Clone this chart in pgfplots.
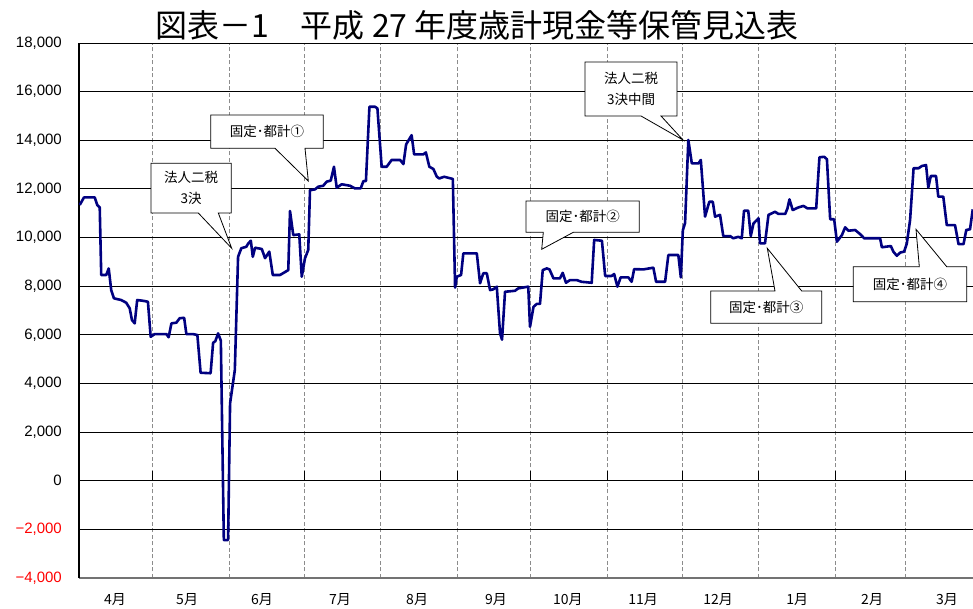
\documentclass[border=0pt]{standalone}
\usepackage{pgfplots}
\pgfplotsset{compat=1.18}
\usepackage{fontspec}
\setmainfont{Liberation Sans}
\newfontfamily\jp{Noto Sans CJK JP}
\newfontfamily\lib{Liberation Sans}
\definecolor{navyline}{RGB}{0,0,128}
\begin{document}
\begin{tikzpicture}
\useasboundingbox (-79pt,-31pt) rectangle (894pt,578pt);
\begin{axis}[
 scale only axis, width=894pt, height=535pt,
 xmin=0.4, xmax=358.4, ymin=-4000, ymax=18000,
 scaled y ticks=false,
 axis x line*=bottom, axis y line*=left,
 x axis line style={line width=2.5pt, color=black!55},
 y axis line style={line width=1.2pt, black},
 ytick={-4000,-2000,0,2000,4000,6000,8000,10000,12000,14000,16000,18000},
 yticklabels={{\textcolor{red}{−4,000}},{\textcolor{red}{−2,000}},{0},{2,000},{4,000},{6,000},{8,000},{10,000},{12,000},{14,000},{16,000},{18,000}},
 yticklabel style={font=\lib\fontsize{15}{15}\selectfont, inner sep=0pt, xshift=-17pt, anchor=east},
 xtick={14.8,43.7,73.7,104.9,135.8,167.4,196.2,226.3,256.3,288.0,318.0,348.0},
 xticklabels={4月,5月,6月,7月,8月,9月,10月,11月,12月,1月,2月,3月},
 xticklabel style={font=\jp\fontsize{14}{14}\selectfont, inner sep=0pt, anchor=center, yshift=-22pt},
 minor xtick={29.8,60.8,90.6,121.0,151.9,181.3,212.1,242.1,272.6,303.4,331.5},
 xminorgrids, ymajorgrids,
 major grid style={black, line width=0.9pt},
 minor grid style={black!45, dash pattern=on 4pt off 2.5pt, line width=0.8pt},
 major tick length=0pt, minor tick length=0pt,
 tick style={draw=none},
]
\pgfplotsinvokeforeach{29.8,60.8,90.6,121.0,151.9,181.3,212.1,242.1,272.6,303.4,331.5}{
  \draw[black, line width=0.8pt] (axis cs:#1,0) -- (axis cs:#1,410);
}
\addplot[navyline, line width=2.6pt, line join=round, mark=none] table {
d v
0.7 11340
2.4 11650
6.7 11650
7.7 11340
8.7 11240
9.3 8460
11.3 8460
12.3 8730
13.3 7840
14.4 7500
17.3 7430
19.3 7320
20.7 7090
21.6 6610
22.7 6470
23.7 7430
26.0 7400
28.0 7360
29.1 5920
30.7 6030
35.4 6030
36.3 5900
37.4 6470
39.4 6500
40.7 6680
42.5 6700
43.4 6030
46.1 6030
47.8 5990
49.1 4440
53.1 4420
54.1 5670
55.0 5740
56.1 6060
57.2 5760
58.4 -2440
60.1 -2440
60.9 3180
62.8 4550
64.1 9210
65.4 9560
67.4 9620
68.2 9760
69.2 9870
70.0 9210
70.9 9580
73.6 9530
74.9 9150
76.6 9420
78.0 8460
80.9 8460
84.2 8660
84.9 11090
86.2 10100
88.6 10130
89.6 8390
90.9 9150
92.2 9490
92.9 11950
94.9 11980
96.2 12090
98.2 12130
99.6 12300
101.2 12340
102.5 12910
103.6 12050
105.6 12190
108.9 12130
110.9 12020
113.2 12020
114.3 12320
115.3 12320
116.7 15380
118.9 15380
119.9 15310
121.6 12910
123.6 12910
125.6 13190
129.0 13190
130.3 13020
131.4 13830
133.6 14210
134.6 13420
138.3 13420
139.3 13500
140.7 12910
142.3 12820
143.7 12500
144.7 12430
146.6 12500
150.1 12410
151.0 7940
151.7 8390
153.4 8460
154.3 9350
159.7 9350
161.0 8120
162.3 8530
163.7 8530
165.0 7840
166.3 7870
167.7 7980
169.0 6060
169.8 5800
171.0 7770
175.0 7810
176.3 7910
180.3 7980
181.0 6330
182.4 7150
183.7 7270
185.0 7270
186.1 8660
187.7 8730
188.8 8690
190.4 8320
193.0 8320
194.1 8550
195.4 8140
197.0 8250
199.7 8250
201.7 8180
205.7 8140
206.7 9900
209.8 9870
211.1 8420
213.7 8420
214.7 8500
216.0 7980
217.3 8360
220.4 8360
221.7 8180
222.7 8700
226.4 8690
230.4 8760
231.5 8180
235.1 8180
236.4 9280
240.4 9280
241.4 8360
242.2 10300
243.1 10600
244.4 14010
245.8 13050
248.5 13050
249.4 13190
251.1 10860
252.8 11470
254.2 11470
255.1 10860
257.1 10930
258.4 10060
261.1 10060
262.4 9970
264.4 10030
265.8 9970
266.7 11100
268.4 11100
269.4 10060
270.5 10580
272.5 10790
273.1 9760
275.1 9760
276.5 10930
279.1 11060
280.5 10970
283.2 10970
284.1 11200
284.9 11570
286.2 11130
288.5 11240
290.5 11300
292.1 11200
295.6 11200
296.9 13300
298.8 13320
299.9 13220
301.2 10750
302.8 10750
303.9 9830
305.9 10100
307.2 10420
308.5 10280
311.2 10310
313.2 10140
314.8 9970
321.2 9970
321.9 9600
325.5 9650
326.5 9420
327.9 9250
329.2 9380
330.8 9420
331.9 9760
333.2 10720
334.6 12850
336.6 12850
337.9 12940
339.6 12980
340.5 12060
341.5 12530
343.6 12530
344.5 11680
346.5 11680
347.9 10510
351.2 10510
352.6 9730
354.6 9730
355.7 10310
357.2 10340
358.3 11160
};
\end{axis}
% title
\node[font=\jp\fontsize{32}{32}\selectfont] at (398pt,553pt) {図表－1　平成 27 年度歳計現金等保管見込表};
% callouts
\tikzset{callout/.style={draw=black, fill=white, line width=0.8pt, line join=miter}}
\tikzset{ctext/.style={font=\jp\fontsize{13.5}{21}\selectfont, align=center}}
% 1: 法人二税 3決
\path[callout] (72pt,414.7pt) -- (152.3pt,414.7pt) -- (152.3pt,365pt) -- (139.3pt,365pt) -- (152.7pt,329.7pt) -- (119.3pt,365pt) -- (72pt,365pt) -- cycle;
\node[ctext] at (112.2pt,389.8pt) {法人二税\\3決};
% 2: 固定・都計①
\path[callout] (131.7pt,463pt) -- (244.3pt,463pt) -- (244.3pt,429.7pt) -- (226pt,429.7pt) -- (229.3pt,397pt) -- (196pt,429.7pt) -- (131.7pt,429.7pt) -- cycle;
\node[ctext] at (188pt,446.3pt) {固定･都計①};
% 3: 固定・都計②
\path[callout] (447pt,377pt) -- (560.3pt,377pt) -- (560.3pt,345.7pt) -- (494.3pt,345.7pt) -- (462.7pt,328.7pt) -- (464.3pt,345.7pt) -- (447pt,345.7pt) -- cycle;
\node[ctext] at (503.7pt,361.3pt) {固定･都計②};
% 4: 法人二税 3決中間
\path[callout] (506pt,516pt) -- (598pt,516pt) -- (598pt,462pt) -- (582pt,462pt) -- (604pt,438pt) -- (562pt,462pt) -- (506pt,462pt) -- cycle;
\node[ctext] at (552pt,489pt) {法人二税\\3決中間};
% 5: 固定・都計③
\path[callout] (631.7pt,287pt) -- (696pt,287pt) -- (688.3pt,329.7pt) -- (722.7pt,287pt) -- (742.7pt,287pt) -- (742.7pt,254.7pt) -- (631.7pt,254.7pt) -- cycle;
\node[ctext] at (687.2pt,270.8pt) {固定･都計③};
% 6: 固定・都計④
\path[callout] (774.3pt,311.3pt) -- (840.3pt,311.3pt) -- (837pt,348.7pt) -- (867.7pt,311.3pt) -- (887.7pt,311.3pt) -- (887.7pt,276.3pt) -- (774.3pt,276.3pt) -- cycle;
\node[ctext] at (831pt,293.8pt) {固定･都計④};
\end{tikzpicture}
\end{document}
